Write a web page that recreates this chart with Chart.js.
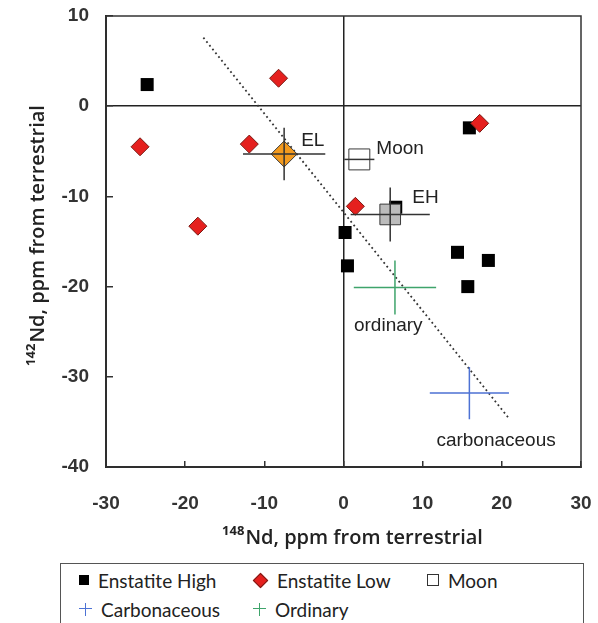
<!DOCTYPE html>
<html>
<head>
<meta charset="utf-8">
<script src="https://cdn.jsdelivr.net/npm/chart.js@4.4.1/dist/chart.umd.min.js"></script>
<style>
  body { margin: 0; background: #fff; width: 598px; height: 623px; overflow: hidden; position: relative; }
  #wrap { position: absolute; left: 0; top: 0; width: 598px; height: 560px; }
  #legend { position: absolute; left: 60px; top: 563px; width: 524px; height: 90px;
            border: 1.5px solid #555; box-sizing: border-box; font-family: Lato, sans-serif; }
  .item { position: absolute; display: flex; align-items: center; height: 24px; font-size: 19px; color: #222; }
  .mk { display: inline-block; margin-right: 9px; }
</style>
</head>
<body>
<div id="wrap"><canvas id="nd-chart"></canvas></div>
<div id="legend"></div>
<script>
// Enstatite chondrites, high-iron (EH) and low-iron (EL) groups
const highX = [-24.8, 15.9, 6.6, 0.2, 0.5, 14.4, 18.3, 15.7];
const highY = [2.4, -2.4, -11.2, -14.0, -17.7, -16.2, -17.1, -20.0];
const lowX = [-25.7, -8.2, -11.9, -18.4, 1.5, 17.2];
const lowY = [-4.5, 3.1, -4.2, -13.3, -11.1, -1.9];

// Group means with error bars
const groupNames = ['EL', 'EH', 'Moon', 'ordinary', 'carbonaceous'];
const groupX = [-7.5, 5.9, 2.0, 6.5, 15.9];
const groupY = [-5.3, -12.0, -5.9, -20.1, -31.8];
const groupErrX = [5.2, 5.0, 1.9, 5.2, 5.0];
const groupErrY = [2.9, 3.0, 0, 3.0, 2.9];

// Dotted trend line end points
const trendX = [-17.7, 20.8];
const trendY = [7.6, -34.5];

const xTicks = [-30, -20, -10, 0, 10, 20, 30];
const yTicks = [10, 0, -10, -20, -30, -40];

const legendNames = ['Enstatite High', 'Enstatite Low', 'Moon', 'Carbonaceous', 'Ordinary'];

// styling per group
const groupMarker = ['rectRot', 'rect', 'rect', false, false];
const groupRadius = [13, 14.6, 14.8, 0, 0];
const groupFill = ['#f39a1e', '#bcbcbc', '#ffffff', 'transparent', 'transparent'];
const groupLine = ['#333333', '#333333', '#333333', '#3fa46b', '#4d72d4'];
const labelOffset = [[17, -13], [22, -17], [17, -11], [-41, 38], [-33, 48]];

const pts = (xs, ys) => xs.map((x, i) => ({ x: x, y: ys[i] }));

const datasets = [];
groupNames.forEach((name, i) => {
  datasets.push({
    label: name + ' error',
    data: [
      { x: groupX[i] - groupErrX[i], y: groupY[i] },
      { x: groupX[i] + groupErrX[i], y: groupY[i] },
      { x: null, y: null },
      { x: groupX[i], y: groupY[i] + groupErrY[i] },
      { x: groupX[i], y: groupY[i] - groupErrY[i] }
    ],
    showLine: true,
    spanGaps: false,
    pointRadius: 0,
    borderColor: groupLine[i],
    borderWidth: 1.5,
    order: 0
  });
});
datasets.push({
  label: 'Groups',
  data: pts(groupX, groupY),
  pointStyle: groupMarker,
  pointRadius: groupRadius,
  backgroundColor: groupFill,
  borderColor: '#3a3a3a',
  borderWidth: 1,
  order: 1
});
datasets.push({
  label: legendNames[1],
  data: pts(lowX, lowY),
  pointStyle: 'rectRot',
  pointRadius: 9,
  backgroundColor: '#e5201e',
  borderColor: '#7a1a14',
  borderWidth: 1,
  order: 2
});
datasets.push({
  label: legendNames[0],
  data: pts(highX, highY),
  pointStyle: 'rect',
  pointRadius: 9.2,
  backgroundColor: '#000000',
  borderColor: '#000000',
  borderWidth: 0,
  order: 3
});
datasets.push({
  label: 'Trend',
  data: pts(trendX, trendY),
  showLine: true,
  pointRadius: 0,
  borderColor: '#333333',
  borderWidth: 1.8,
  borderDash: [1.8, 3],
  order: 5
});

// frame, point labels and axis titles with superscripts
const decorations = {
  id: 'decorations',
  afterDatasetsDraw(chart) {
    const ctx = chart.ctx;
    const xs = chart.scales.x, ys = chart.scales.y;
    ctx.save();
    ctx.fillStyle = '#222';
    ctx.font = '19px "Liberation Sans", Arial, sans-serif';
    ctx.textAlign = 'left';
    ctx.textBaseline = 'middle';
    groupNames.forEach((name, i) => {
      const px = xs.getPixelForValue(groupX[i]) + labelOffset[i][0];
      const py = ys.getPixelForValue(groupY[i]) + labelOffset[i][1];
      ctx.fillText(name, px, py);
    });
    ctx.restore();
  },
  afterDraw(chart) {
    const ctx = chart.ctx;
    const a = chart.chartArea;
    ctx.save();
    ctx.strokeStyle = '#333';
    ctx.lineWidth = 1.5;
    ctx.strokeRect(a.left, a.top, a.right - a.left, a.bottom - a.top);

    const supFont = 'bold 13px "Open Sans", sans-serif';
    const mainFont = '600 20px "Open Sans", sans-serif';
    function title(sup, main, cx, cy, rot) {
      ctx.save();
      ctx.translate(cx, cy);
      ctx.rotate(rot);
      ctx.font = supFont;
      const sw = ctx.measureText(sup).width;
      ctx.font = mainFont;
      const mw = ctx.measureText(main).width;
      const x0 = -(sw + 1 + mw) / 2;
      ctx.fillStyle = '#222';
      ctx.textBaseline = 'alphabetic';
      ctx.textAlign = 'left';
      ctx.font = supFont;
      ctx.fillText(sup, x0, -9);
      ctx.font = mainFont;
      ctx.fillText(main, x0 + sw + 1, 0);
      ctx.restore();
    }
    const midX = (a.left + a.right) / 2;
    const midY = (a.top + a.bottom) / 2;
    title('148', 'Nd, ppm from terrestrial', midX + 9, a.bottom + 77, 0);
    title('142', 'Nd, ppm from terrestrial', a.left - 62, midY - 6, -Math.PI / 2);
    ctx.restore();
  }
};

const tickFont = { family: '"Liberation Sans", Arial, sans-serif', size: 19, weight: 'bold' };
const zeroLine = c => (c.tick && c.tick.value === 0) ? '#222' : 'rgba(0,0,0,0)';

new Chart(document.getElementById('nd-chart'), {
  type: 'scatter',
  data: { datasets: datasets },
  options: {
    responsive: true,
    maintainAspectRatio: false,
    animation: false,
    layout: { padding: { left: 0, top: 16, right: 17, bottom: 0 } },
    plugins: { legend: { display: false }, tooltip: { enabled: false } },
    scales: {
      x: {
        type: 'linear', min: -30, max: 30,
        afterBuildTicks: s => { s.ticks = xTicks.map(v => ({ value: v })); },
        afterFit: s => { s.height = 93; s.paddingLeft = 0; s.paddingRight = 0; },
        ticks: { font: tickFont, color: '#333', padding: 31 },
        grid: { color: zeroLine, lineWidth: 1.5, tickLength: -6, tickColor: '#333', tickWidth: 1.5 },
        border: { display: true, color: '#222', width: 2 }
      },
      y: {
        type: 'linear', min: -40, max: 10,
        afterBuildTicks: s => { s.ticks = yTicks.map(v => ({ value: v })); },
        afterFit: s => { s.width = 106; s.paddingTop = 0; s.paddingBottom = 0; },
        ticks: { font: tickFont, color: '#333', padding: 24 },
        grid: { color: zeroLine, lineWidth: 1.5, tickLength: -7, tickColor: '#333', tickWidth: 1.5 },
        border: { display: true, color: '#222', width: 2 }
      }
    }
  },
  plugins: [decorations]
});

// legend box below the chart
const legendMarks = [
  'width:10px;height:10px;background:#000;',
  'width:9px;height:9px;background:#e5201e;border:1px solid #7a1a14;transform:rotate(45deg);margin-left:2px;margin-right:11px;',
  'width:10px;height:10px;border:1px solid #333;background:#fff;',
  'width:13px;height:13px;background:linear-gradient(#4d72d4,#4d72d4) center/13px 1.3px no-repeat,linear-gradient(#4d72d4,#4d72d4) center/1.3px 13px no-repeat;',
  'width:13px;height:13px;background:linear-gradient(#3fa46b,#3fa46b) center/13px 1.3px no-repeat,linear-gradient(#3fa46b,#3fa46b) center/1.3px 13px no-repeat;'
];
const colLeft = [18, 192, 366];
const legend = document.getElementById('legend');
legendNames.forEach((name, i) => {
  const item = document.createElement('div');
  item.className = 'item';
  item.style.left = colLeft[i % 3] + 'px';
  item.style.top = (i < 3 ? 4 : 33) + 'px';
  item.innerHTML = '<span class="mk" style="' + legendMarks[i] + '"></span><span>' + name + '</span>';
  legend.appendChild(item);
});
</script>
</body>
</html>
